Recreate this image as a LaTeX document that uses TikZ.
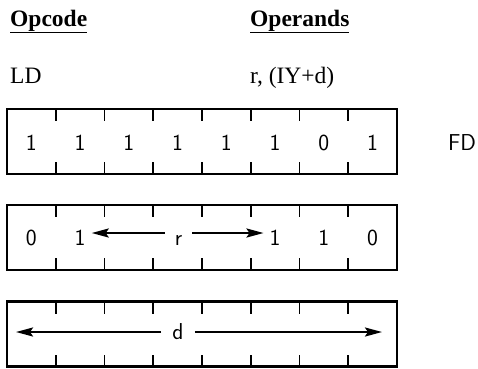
\documentclass[tikz,border=0pt]{standalone}
\usepackage{fontspec}
\setmainfont{Liberation Serif}
\usetikzlibrary{arrows.meta,positioning,calc}
\tikzset{regbox/.style={draw, line width=2.6pt, minimum width=390pt, minimum height=65pt, inner sep=0pt, outer sep=0pt}}
\tikzset{tick/.style={draw, line width=1.8pt}}
\tikzset{hdr/.style={anchor=base west, inner sep=0pt, font=\fontsize{23.5}{26}\selectfont\bfseries}}
\tikzset{mnem/.style={anchor=base west, inner sep=0pt, font=\fontsize{23.5}{26}\selectfont}}
\tikzset{bit/.style={anchor=base, text height=24pt, text depth=0pt, inner ysep=0pt, inner xsep=6pt, font=\sffamily\fontsize{23}{26}\selectfont}}
\tikzset{dsp/.style={inner ysep=0pt, inner xsep=11pt, font=\sffamily\fontsize{23}{26}\selectfont}}
\tikzset{arr/.style={draw, -{Stealth[length=17pt, width=9pt, inset=3pt]}, line width=2.3pt}}

\begin{document}
\begin{tikzpicture}[x=1pt, y=-1pt]
  \useasboundingbox (0,0) rectangle (478,368);
  % headings
  \node[hdr] (opc) at (10,26) {\underline{Opcode}};
  \node[hdr] (opr) at (250,26) {\underline{Operands}};
  \node[mnem] (ld) at (10,83) {LD};
  \node[mnem] (args) at (250,83) {r, (IY+d)};

  % the three bytes
  \node[regbox] (b1) at (202,141.5) {};
  \node[regbox] (b2) at (202,237.5) {};
  \node[regbox] (b3) at (202,334) {};
  \foreach \reg in {b1,b2,b3}
    \foreach \k in {1,...,7} {
      \draw[tick] ($(\reg.north west)!\k/8!(\reg.north east)$) -- ++(0,12);
      \draw[tick] ($(\reg.south west)!\k/8!(\reg.south east)$) -- ++(0,-12);
    }

  % first byte
  \foreach \v [count=\i] in {1,1,1,1,1,1,0,1}
    \node[bit] (p\i) at (48.75*\i-17.375,150) {\v};
  \node[bit] (fd) at (462,150) {FD};

  % second byte
  \foreach \v/\i in {0/1,1/2,1/6,1/7,0/8}
    \node[bit] (q\i) at (48.75*\i-17.375,245) {\v};
  \node[bit, inner xsep=10pt] (rr) at (178.5,245) {r};
  \draw[arr] (rr) -- (q2);
  \draw[arr] (rr) -- (q6);

  % third byte
  \node[dsp] (dd) at (178,332) {d};
  \coordinate (dl) at (16,332);
  \coordinate (dr) at (382,332);
  \draw[arr] (dd) -- (dl);
  \draw[arr] (dd) -- (dr);
\end{tikzpicture}
\end{document}
